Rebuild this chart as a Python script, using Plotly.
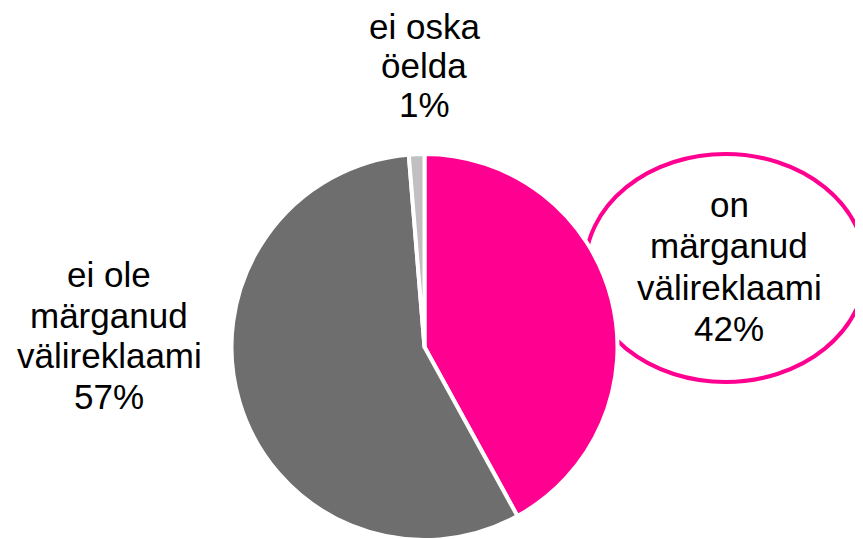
import plotly.graph_objects as go

W, H = 863, 539
OFF = 8  # page body margin offset in the browser

categories = ["on märganud välireklaami", "ei ole märganud välireklaami", "ei oska öelda"]
values = [42, 56.7, 1.3]
colors = ["#FF0090", "#6E6E6E", "#C0C0C0"]

label_lines = [
    ["on", "märganud", "välireklaami", "42%"],
    ["ei ole", "märganud", "välireklaami", "57%"],
    ["ei oska", "öelda", "1%"],
]
# label block anchor (center x, baseline of last line, line gap) in screen pixels
label_pos = [(729, 340, 41.3), (109, 408, 40.5), (424, 116, 39.0)]
font_size = 35

def px(x):
    return (x - OFF) / W

def py(y):
    return 1 - (y - OFF) / H

fig = go.Figure()

cx, cy, r = 424.5, 347, 193
fig.add_trace(go.Pie(
    labels=categories,
    values=values,
    sort=False,
    direction="clockwise",
    rotation=0,
    marker=dict(colors=colors, line=dict(color="white", width=4)),
    textinfo="none",
    hoverinfo="skip",
    showlegend=False,
    domain=dict(x=[px(cx - r), px(cx + r)], y=[py(cy + r), py(cy - r)]),
))

annotations = []
for lines, (lx, lb, gap) in zip(label_lines, label_pos):
    n = len(lines)
    for i, t in enumerate(lines):
        base = lb - (n - 1 - i) * gap
        annotations.append(dict(
            x=px(lx), y=py(base - 0.33 * font_size),
            xref="paper", yref="paper",
            text=t, showarrow=False,
            xanchor="center", yanchor="middle",
            borderpad=0,
            font=dict(family="Liberation Sans, Arial, sans-serif", size=font_size, color="black"),
        ))

fig.update_layout(
    width=W, height=H,
    margin=dict(l=0, r=0, t=0, b=0),
    paper_bgcolor="white",
    plot_bgcolor="white",
    annotations=annotations,
    shapes=[dict(
        type="circle", xref="paper", yref="paper",
        x0=px(585), x1=px(866), y0=py(382), y1=py(154),
        line=dict(color="#FF0090", width=4),
        fillcolor="white",
        layer="below",
    )],
)

fig.write_html("out.html")
